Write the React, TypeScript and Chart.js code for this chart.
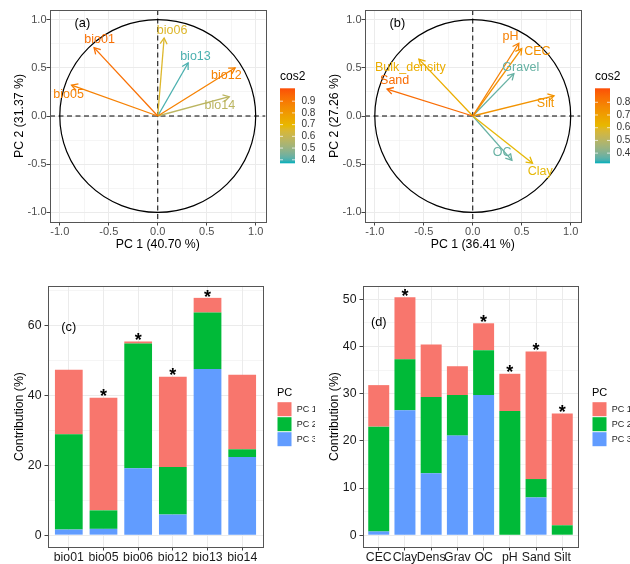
import React, { useEffect, useRef } from 'react';
import { Chart, registerables } from 'chart.js';

Chart.register(...registerables);
const FONT = "'Liberation Sans', Arial, Helvetica, sans-serif";
Chart.defaults.font.family = FONT;

// ---------------- Panel (a): climate PCA variables ----------------
const climVars = ['bio01', 'bio05', 'bio06', 'bio12', 'bio13', 'bio14'];
const climPC1 = [-0.65, -0.88, 0.065, 0.79, 0.31, 0.73];
const climPC2 = [0.71, 0.32, 0.81, 0.5, 0.55, 0.2];
const climLabelX = [-0.593, -0.91, 0.147, 0.7, 0.385, 0.634];
const climLabelY = [0.79, 0.224, 0.886, 0.417, 0.617, 0.107];
const climCosLimits = [0.37, 1.01];
const climCosBreaks = [0.4, 0.5, 0.6, 0.7, 0.8, 0.9];

// ---------------- Panel (b): soil PCA variables ----------------
const soilVars = ['pH', 'CEC', 'Gravel', 'Silt', 'Clay', 'OC', 'Sand', 'Bulk_density'];
const soilPC1 = [0.47, 0.5, 0.42, 0.83, 0.61, 0.4, -0.875, -0.55];
const soilPC2 = [0.755, 0.7, 0.44, 0.21, -0.49, -0.46, 0.28, 0.59];
const soilLabelX = [0.385, 0.66, 0.49, 0.743, 0.688, 0.3, -0.797, -0.637];
const soilLabelY = [0.824, 0.67, 0.503, 0.131, -0.576, -0.383, 0.366, 0.503];
const soilCosLimits = [0.32, 0.91];
const soilCosBreaks = [0.4, 0.5, 0.6, 0.7, 0.8];

const pcaTicksMajor = [-1, -0.5, 0, 0.5, 1];
const pcaTicksMinor = [-0.75, -0.25, 0.25, 0.75];

// ---------------- Panel (c): climate contributions ----------------
const climCats = ['bio01', 'bio05', 'bio06', 'bio12', 'bio13', 'bio14'];
const climContribPC1 = [18.5, 32.3, 0.6, 25.9, 4.2, 21.4];
const climContribPC2 = [27.3, 5.3, 35.7, 13.6, 16.2, 2.2];
const climContribPC3 = [1.6, 1.8, 19.2, 5.9, 47.6, 22.4];
const climStars = [false, true, true, true, true, false];
const climYMajor = [0, 20, 40, 60];
const climYMinor = [10, 30, 50, 70];

// ---------------- Panel (d): soil contributions ----------------
const soilCats = ['CEC', 'Clay', 'Dens', 'Grav', 'OC', 'pH', 'Sand', 'Silt'];
const soilContribPC1 = [8.8, 13.1, 11.1, 6.1, 5.7, 7.9, 27.0, 23.7];
const soilContribPC2 = [22.2, 10.8, 16.2, 8.6, 9.5, 26.3, 3.9, 2.1];
const soilContribPC3 = [0.8, 26.5, 13.1, 21.1, 29.7, 0, 8.0, 0];
const soilStars = [false, true, false, false, true, true, true, true];
const soilYMajor = [0, 10, 20, 30, 40, 50];
const soilYMinor = [5, 15, 25, 35, 45];

const pcLegend = ['PC 1', 'PC 2', 'PC 3'];
const pcColors = ['#F8766D', '#00BA38', '#619CFF'];

// ---------------- colour helpers (Lab interpolation like ggplot) ----------------
const cosStops = ['#00AFBB', '#E7B800', '#FC4E07'];
function hexToRgb(h: string) {
  return [1, 3, 5].map((i) => parseInt(h.slice(i, i + 2), 16));
}
function sLin(c: number) { c /= 255; return c <= 0.04045 ? c / 12.92 : Math.pow((c + 0.055) / 1.055, 2.4); }
function linS(c: number) {
  const v = c <= 0.0031308 ? 12.92 * c : 1.055 * Math.pow(c, 1 / 2.4) - 0.055;
  return Math.round(Math.max(0, Math.min(1, v)) * 255);
}
function rgbToLab(rgb: number[]) {
  const R = sLin(rgb[0]), G = sLin(rgb[1]), B = sLin(rgb[2]);
  const X = (0.4124 * R + 0.3576 * G + 0.1805 * B) / 0.95047;
  const Y = 0.2126 * R + 0.7152 * G + 0.0722 * B;
  const Z = (0.0193 * R + 0.1192 * G + 0.9505 * B) / 1.08883;
  const f = (t: number) => (t > 0.008856 ? Math.cbrt(t) : 7.787 * t + 16 / 116);
  const fx = f(X), fy = f(Y), fz = f(Z);
  return [116 * fy - 16, 500 * (fx - fy), 200 * (fy - fz)];
}
function labToRgb(lab: number[]) {
  const fy = (lab[0] + 16) / 116, fx = fy + lab[1] / 500, fz = fy - lab[2] / 200;
  const fi = (t: number) => (t * t * t > 0.008856 ? t * t * t : (t - 16 / 116) / 7.787);
  const X = fi(fx) * 0.95047, Y = fi(fy), Z = fi(fz) * 1.08883;
  const R = 3.2406 * X - 1.5372 * Y - 0.4986 * Z;
  const G = -0.9689 * X + 1.8758 * Y + 0.0415 * Z;
  const B = 0.0557 * X - 0.204 * Y + 1.057 * Z;
  return [linS(R), linS(G), linS(B)];
}
const stopLabs = cosStops.map((h) => rgbToLab(hexToRgb(h)));
function gradColor(t: number) {
  t = Math.max(0, Math.min(1, t));
  const seg = t < 0.5 ? 0 : 1;
  const lt = (t - seg * 0.5) / 0.5;
  const a = stopLabs[seg], b = stopLabs[seg + 1];
  const lab = a.map((v, k) => v + (b[k] - v) * lt);
  const c = labToRgb(lab);
  return `rgb(${c[0]},${c[1]},${c[2]})`;
}

const isMult = (v: number, step: number) => Math.abs(v / step - Math.round(v / step)) < 1e-6;

// ---------------- PCA panel ----------------
type PcaProps = {
  left: number; vars: string[]; pc1: number[]; pc2: number[]; labelX: number[]; labelY: number[];
  cosLimits: number[]; cosBreaks: number[]; xTitle: string; yTitle: string; tag: string;
};

function PcaPanel(p: PcaProps) {
  const ref = useRef<HTMLCanvasElement>(null);
  useEffect(() => {
    const canvas = ref.current;
    if (!canvas) return;
    const cos2 = p.pc1.map((x, i) => x * x + p.pc2[i] * p.pc2[i]);
    const colors = cos2.map((c) => gradColor((c - p.cosLimits[0]) / (p.cosLimits[1] - p.cosLimits[0])));
    const datasets = p.vars.map((v, i) => ({
      label: v,
      data: [{ x: 0, y: 0 }, { x: p.pc1[i], y: p.pc2[i] }],
      showLine: true,
      borderColor: colors[i],
      backgroundColor: colors[i],
      borderWidth: 1.3,
      pointRadius: 0,
      pointHoverRadius: 0,
    }));
    const allTicks = [...pcaTicksMajor, ...pcaTicksMinor].sort((a, b) => a - b);
    const grid = {
      color: '#EBEBEB',
      lineWidth: (c: any) => (c.tick && isMult(c.tick.value, 0.5) ? 1 : 0.5),
      tickColor: (c: any) => (c.tick && isMult(c.tick.value, 0.5) ? '#444' : 'rgba(0,0,0,0)'),
      tickLength: 3.5,
      drawTicks: true,
    };
    const tickOpts = {
      autoSkip: false, maxRotation: 0, padding: 0, color: '#4D4D4D', font: { size: 11 },
      callback: (v: any) => (isMult(Number(v), 0.5) ? Number(v).toFixed(1) : ''),
    };
    const plugin = {
      id: 'pcaDecor',
      beforeDatasetsDraw(chart: any) {
        const { ctx, chartArea: ca, scales } = chart;
        const x = scales.x, y = scales.y;
        ctx.save();
        ctx.beginPath(); ctx.rect(ca.left, ca.top, ca.right - ca.left, ca.bottom - ca.top); ctx.clip();
        const cx = x.getPixelForValue(0), cy = y.getPixelForValue(0);
        const rx = x.getPixelForValue(1) - cx, ry = cy - y.getPixelForValue(1);
        ctx.strokeStyle = '#000'; ctx.lineWidth = 1.2;
        ctx.beginPath(); ctx.ellipse(cx, cy, rx, ry, 0, 0, Math.PI * 2); ctx.stroke();
        ctx.setLineDash([5, 3.5]); ctx.lineWidth = 1;
        ctx.beginPath();
        ctx.moveTo(ca.left, cy); ctx.lineTo(ca.right, cy);
        ctx.moveTo(cx, ca.top); ctx.lineTo(cx, ca.bottom);
        ctx.stroke();
        ctx.restore();
      },
      afterDatasetsDraw(chart: any) {
        const { ctx, scales } = chart;
        const x = scales.x, y = scales.y;
        const cx = x.getPixelForValue(0), cy = y.getPixelForValue(0);
        ctx.save();
        p.vars.forEach((v, i) => {
          const tx = x.getPixelForValue(p.pc1[i]), ty = y.getPixelForValue(p.pc2[i]);
          const ang = Math.atan2(ty - cy, tx - cx);
          const L = 7, a = Math.PI / 6;
          ctx.strokeStyle = colors[i]; ctx.lineWidth = 1.3;
          ctx.beginPath();
          ctx.moveTo(tx - L * Math.cos(ang - a), ty - L * Math.sin(ang - a));
          ctx.lineTo(tx, ty);
          ctx.lineTo(tx - L * Math.cos(ang + a), ty - L * Math.sin(ang + a));
          ctx.stroke();
        });
        ctx.font = `12.5px ${FONT}`; ctx.textAlign = 'center'; ctx.textBaseline = 'middle';
        p.vars.forEach((v, i) => {
          ctx.fillStyle = colors[i];
          ctx.fillText(v, x.getPixelForValue(p.labelX[i]), y.getPixelForValue(p.labelY[i]));
        });
        ctx.fillStyle = '#000'; ctx.font = `12.8px ${FONT}`;
        ctx.fillText(p.tag, x.getPixelForValue(-0.77), y.getPixelForValue(0.955));
        ctx.restore();
      },
      afterDraw(chart: any) {
        const { ctx, chartArea: ca } = chart;
        ctx.save();
        ctx.strokeStyle = '#555'; ctx.lineWidth = 1;
        ctx.strokeRect(Math.round(ca.left) + 0.5, Math.round(ca.top) + 0.5, Math.round(ca.right - ca.left), Math.round(ca.bottom - ca.top));
        // colour bar legend
        const bx = 280, bw = 15, bt = 88.3, bh = 75;
        const g = ctx.createLinearGradient(0, bt + bh, 0, bt);
        for (let k = 0; k <= 24; k++) g.addColorStop(k / 24, gradColor(k / 24));
        ctx.fillStyle = g; ctx.fillRect(bx, bt, bw, bh);
        ctx.font = `10px ${FONT}`; ctx.textAlign = 'left'; ctx.textBaseline = 'middle';
        p.cosBreaks.forEach((v) => {
          const yy = bt + ((p.cosLimits[1] - v) / (p.cosLimits[1] - p.cosLimits[0])) * bh;
          ctx.strokeStyle = 'rgba(255,255,255,0.9)'; ctx.lineWidth = 0.8;
          ctx.beginPath();
          ctx.moveTo(bx, yy); ctx.lineTo(bx + 3, yy);
          ctx.moveTo(bx + bw - 3, yy); ctx.lineTo(bx + bw, yy);
          ctx.stroke();
          ctx.fillStyle = '#333';
          ctx.fillText(v.toFixed(1), bx + bw + 6.5, yy);
        });
        ctx.fillStyle = '#000'; ctx.font = `12px ${FONT}`;
        ctx.fillText('cos2', bx, 76.7);
        ctx.restore();
      },
    };
    const chart = new Chart(canvas, {
      type: 'scatter',
      data: { datasets } as any,
      options: {
        responsive: false,
        animation: false,
        layout: { padding: { left: 0, right: 49.5, top: 10, bottom: 0 } },
        plugins: { legend: { display: false }, tooltip: { enabled: false } },
        scales: {
          x: {
            type: 'linear', min: -1.1, max: 1.1,
            grid, border: { display: false }, ticks: tickOpts,
            afterBuildTicks: (s: any) => { s.ticks = allTicks.map((v) => ({ value: v })); },
            afterFit: (s: any) => { s.height = 38; },
            title: { display: true, text: p.xTitle, color: '#000', font: { size: 12.3 }, padding: { top: 0, bottom: 7.6 } },
          },
          y: {
            type: 'linear', min: -1.1, max: 1.1,
            grid, border: { display: false }, ticks: tickOpts,
            afterBuildTicks: (s: any) => { s.ticks = allTicks.map((v) => ({ value: v })); },
            afterFit: (s: any) => { s.width = 50; },
            title: { display: true, text: p.yTitle, color: '#000', font: { size: 12.3 }, padding: { top: 12.6, bottom: 0 } },
          },
        },
      } as any,
      plugins: [plugin],
    });
    return () => chart.destroy();
  }, []);
  return (
    <canvas ref={ref} width={315} height={260}
      style={{ position: 'absolute', left: p.left, top: 0, width: 315, height: 260 }} />
  );
}

// ---------------- Contribution bar panel ----------------
type BarProps = {
  left: number; cats: string[]; c1: number[]; c2: number[]; c3: number[]; stars: boolean[];
  yMin: number; yMax: number; yMajor: number[]; yMinor: number[]; majorStep: number;
  tag: string; tagY: number;
};

function ContribPanel(p: BarProps) {
  const ref = useRef<HTMLCanvasElement>(null);
  useEffect(() => {
    const canvas = ref.current;
    if (!canvas) return;
    const n = p.cats.length;
    const mk = (arr: number[]) => arr.map((v, i) => ({ x: i + 1, y: v }));
    const datasets = [
      { label: 'PC 3', data: mk(p.c3), backgroundColor: pcColors[2] },
      { label: 'PC 2', data: mk(p.c2), backgroundColor: pcColors[1] },
      { label: 'PC 1', data: mk(p.c1), backgroundColor: pcColors[0] },
    ].map((d) => ({ ...d, borderWidth: 0, barPercentage: 0.8, categoryPercentage: 1 }));
    const yTicks = [...p.yMajor, ...p.yMinor].sort((a, b) => a - b);
    const plugin = {
      id: 'barDecor',
      afterDatasetsDraw(chart: any) {
        const { ctx, scales } = chart;
        const x = scales.x, y = scales.y;
        ctx.save();
        ctx.fillStyle = '#000';
        ctx.textAlign = 'center'; ctx.textBaseline = 'alphabetic';
        ctx.font = `bold 18px ${FONT}`;
        p.stars.forEach((s, i) => {
          if (!s) return;
          const total = p.c1[i] + p.c2[i] + p.c3[i];
          ctx.fillText('*', x.getPixelForValue(i + 1), y.getPixelForValue(total) + 4.7);
        });
        ctx.font = `12.8px ${FONT}`; ctx.textBaseline = 'middle';
        ctx.fillText(p.tag, x.getPixelForValue(1), y.getPixelForValue(p.tagY));
        ctx.restore();
      },
      afterDraw(chart: any) {
        const { ctx, chartArea: ca } = chart;
        ctx.save();
        ctx.strokeStyle = '#555'; ctx.lineWidth = 1;
        ctx.strokeRect(Math.round(ca.left) + 0.5, Math.round(ca.top) + 0.5, Math.round(ca.right - ca.left), Math.round(ca.bottom - ca.top));
        // legend
        const kx = 277, ky = 131.7, ks = 15;
        ctx.fillStyle = '#000'; ctx.font = `11px ${FONT}`;
        ctx.textAlign = 'left'; ctx.textBaseline = 'middle';
        ctx.fillText('PC', kx, 122.7);
        pcLegend.forEach((lab, k) => {
          ctx.fillStyle = pcColors[k];
          ctx.fillRect(kx + 0.5, ky + k * ks + 0.5, ks - 1, ks - 1);
          ctx.fillStyle = '#222'; ctx.font = `9px ${FONT}`;
          ctx.fillText(lab, kx + ks + 4.7, ky + k * ks + ks / 2);
        });
        ctx.restore();
      },
    };
    const chart = new Chart(canvas, {
      type: 'bar',
      data: { datasets } as any,
      options: {
        responsive: false,
        animation: false,
        layout: { padding: { left: 0, right: 52, top: 16, bottom: 0 } },
        plugins: { legend: { display: false }, tooltip: { enabled: false } },
        scales: {
          x: {
            type: 'linear', min: 0.4, max: n + 0.6, offset: false, stacked: true,
            grid: { offset: false, color: '#EBEBEB', lineWidth: 1, tickColor: '#444', tickLength: 3.5, drawTicks: true },
            border: { display: false },
            ticks: {
              autoSkip: false, maxRotation: 0, padding: 0, color: '#1A1A1A', font: { size: 12.3 },
              callback: (v: any) => p.cats[Number(v) - 1] ?? '',
            },
            afterBuildTicks: (s: any) => { s.ticks = p.cats.map((_, i) => ({ value: i + 1 })); },
            afterFit: (s: any) => { s.height = 17; },
          },
          y: {
            type: 'linear', min: p.yMin, max: p.yMax, stacked: true,
            grid: {
              color: '#EBEBEB',
              lineWidth: (c: any) => (c.tick && isMult(c.tick.value, p.majorStep) ? 1 : 0.5),
              tickColor: (c: any) => (c.tick && isMult(c.tick.value, p.majorStep) ? '#444' : 'rgba(0,0,0,0)'),
              tickLength: 3.5, drawTicks: true,
            },
            border: { display: false },
            ticks: {
              autoSkip: false, padding: 3, color: '#1A1A1A', font: { size: 12.3 },
              callback: (v: any) => (isMult(Number(v), p.majorStep) ? String(v) : ''),
            },
            afterBuildTicks: (s: any) => { s.ticks = yTicks.map((v) => ({ value: v })); },
            afterFit: (s: any) => { s.width = 48; },
            title: { display: true, text: 'Contribution (%)', color: '#000', font: { size: 12.3 }, padding: { top: 12.6, bottom: 0 } },
          },
        },
      } as any,
      plugins: [plugin],
    });
    return () => chart.destroy();
  }, []);
  return (
    <canvas ref={ref} width={315} height={294}
      style={{ position: 'absolute', left: p.left, top: 270, width: 315, height: 294 }} />
  );
}

export default function App() {
  return (
    <div style={{ position: 'fixed', left: 0, top: 0, width: 630, height: 564, background: '#fff', overflow: 'hidden' }}>
      <PcaPanel left={0} vars={climVars} pc1={climPC1} pc2={climPC2} labelX={climLabelX} labelY={climLabelY}
        cosLimits={climCosLimits} cosBreaks={climCosBreaks} xTitle="PC 1 (40.70 %)" yTitle="PC 2 (31.37 %)" tag="(a)" />
      <PcaPanel left={315} vars={soilVars} pc1={soilPC1} pc2={soilPC2} labelX={soilLabelX} labelY={soilLabelY}
        cosLimits={soilCosLimits} cosBreaks={soilCosBreaks} xTitle="PC 1 (36.41 %)" yTitle="PC 2 (27.26 %)" tag="(b)" />
      <ContribPanel left={0} cats={climCats} c1={climContribPC1} c2={climContribPC2} c3={climContribPC3}
        stars={climStars} yMin={-3.4} yMax={71.4} yMajor={climYMajor} yMinor={climYMinor} majorStep={20}
        tag="(c)" tagY={59.5} />
      <ContribPanel left={315} cats={soilCats} c1={soilContribPC1} c2={soilContribPC2} c3={soilContribPC3}
        stars={soilStars} yMin={-2.5} yMax={52.8} yMajor={soilYMajor} yMinor={soilYMinor} majorStep={10}
        tag="(d)" tagY={45} />
    </div>
  );
}
